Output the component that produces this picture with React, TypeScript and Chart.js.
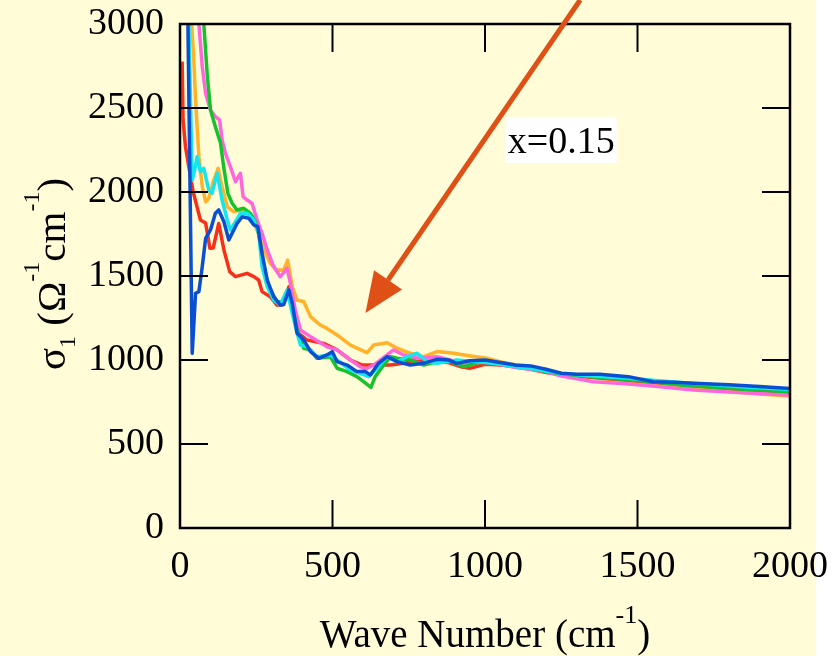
import React, { useEffect, useRef } from "react";
import { Chart, registerables } from "chart.js";

Chart.register(...registerables);

// ---- Data ----
const X_TICKS = [0, 500, 1000, 1500, 2000];
const Y_TICKS = [0, 500, 1000, 1500, 2000, 2500, 3000];

const blueX = [20, 26, 40, 51, 62, 73, 84, 100, 116, 127, 144, 160, 171, 187, 204, 226, 242, 255, 269, 286, 307, 329, 340, 357, 368, 384, 406, 428, 455, 482, 499, 515, 548, 580, 608, 624, 651, 679, 712, 755, 799, 843, 880, 908, 950, 1000, 1050, 1100, 1150, 1200, 1250, 1300, 1377, 1470, 1552, 1620, 1683, 1800, 1900, 2000];
const blueY = [3600, 3000, 1040, 1397, 1407, 1556, 1724, 1774, 1873, 1893, 1823, 1714, 1754, 1813, 1853, 1843, 1804, 1794, 1635, 1476, 1377, 1327, 1330, 1417, 1337, 1159, 1119, 1050, 1010, 1030, 1050, 990, 970, 931, 931, 911, 980, 1020, 990, 970, 980, 1005, 1000, 980, 995, 1000, 985, 970, 965, 945, 921, 915, 915, 901, 871, 868, 861, 852, 842, 831];

const cyanX = [22, 29, 36, 40, 48, 56, 67, 78, 94, 105, 122, 138, 155, 165, 182, 198, 220, 242, 258, 269, 286, 307, 329, 351, 368, 384, 395, 417, 449, 493, 515, 559, 591, 619, 646, 679, 712, 744, 777, 810, 843, 908, 974, 1050, 1100, 1150, 1200, 1250, 1350, 1450, 1550, 1650, 1750, 1850, 2000];
const cyanY = [3600, 3000, 2400, 2071, 2130, 2210, 2121, 2141, 2012, 1992, 2111, 1952, 1833, 1774, 1823, 1873, 1873, 1833, 1754, 1556, 1436, 1357, 1327, 1417, 1278, 1159, 1089, 1079, 1020, 1030, 1000, 940, 921, 901, 951, 1020, 990, 1020, 1040, 990, 980, 1000, 990, 975, 960, 950, 935, 920, 905, 895, 880, 865, 852, 840, 825];

const greenX = [65, 78, 89, 100, 116, 133, 143, 150, 157, 171, 187, 209, 231, 247, 258, 275, 291, 318, 335, 353, 368, 384, 406, 428, 449, 493, 515, 548, 580, 602, 626, 640, 668, 690, 712, 755, 799, 843, 886, 930, 974, 1017, 1100, 1150, 1200, 1250, 1350, 1450, 1550, 1650, 1750, 1850, 2000];
const greenY = [3500, 3000, 2706, 2488, 2389, 2290, 2151, 2071, 1992, 1933, 1893, 1903, 1873, 1823, 1754, 1556, 1436, 1347, 1347, 1407, 1318, 1179, 1069, 1060, 1010, 1020, 951, 931, 901, 871, 837, 901, 970, 1020, 1010, 1000, 970, 990, 990, 960, 984, 990, 965, 950, 930, 918, 900, 885, 870, 850, 838, 826, 811];

const pinkX = [50, 62, 73, 84, 100, 116, 130, 138, 149, 165, 182, 198, 207, 220, 236, 253, 269, 286, 307, 329, 351, 362, 378, 395, 428, 482, 515, 559, 591, 608, 635, 679, 700, 733, 777, 843, 886, 930, 995, 1050, 1100, 1150, 1200, 1250, 1356, 1450, 1550, 1683, 1800, 1900, 2000];
const pinkY = [3500, 3000, 2746, 2587, 2488, 2448, 2429, 2310, 2230, 2151, 2062, 2111, 1972, 1952, 1933, 1833, 1754, 1655, 1556, 1496, 1545, 1456, 1298, 1179, 1139, 1079, 1060, 1000, 960, 945, 970, 1030, 1060, 1030, 1010, 1020, 1000, 970, 990, 975, 955, 945, 930, 905, 871, 860, 845, 821, 810, 800, 792];

const redX = [7, 10, 18, 29, 43, 67, 84, 98, 109, 127, 144, 163, 182, 220, 242, 258, 269, 296, 318, 335, 357, 373, 389, 417, 471, 515, 559, 597, 646, 690, 733, 780, 830, 880, 920, 950, 1000, 1050, 1100, 1150, 1200, 1300, 1400, 1500, 1600, 1700, 1800, 1900, 2000];
const redY = [2776, 2429, 2268, 2150, 2002, 1833, 1815, 1665, 1667, 1813, 1655, 1526, 1496, 1516, 1496, 1476, 1407, 1377, 1327, 1327, 1436, 1298, 1159, 1119, 1099, 1060, 1000, 970, 970, 970, 980, 1000, 990, 985, 960, 950, 975, 970, 960, 945, 925, 905, 890, 875, 860, 845, 830, 818, 805];

const orangeX = [30, 38, 45, 51, 62, 73, 84, 94, 111, 125, 138, 155, 176, 198, 231, 253, 275, 296, 318, 340, 353, 368, 384, 406, 428, 460, 482, 515, 559, 613, 635, 679, 712, 755, 799, 843, 897, 952, 1006, 1050, 1100, 1150, 1200, 1250, 1300, 1400, 1500, 1600, 1700, 1800, 1900, 2000];
const orangeY = [3500, 3000, 2800, 2548, 2210, 2032, 1942, 1962, 2071, 2141, 2032, 1912, 1883, 1893, 1853, 1774, 1655, 1575, 1536, 1536, 1595, 1436, 1357, 1347, 1258, 1208, 1188, 1149, 1089, 1044, 1089, 1103, 1070, 1040, 1020, 1050, 1040, 1024, 1010, 990, 970, 950, 940, 920, 905, 885, 870, 850, 830, 812, 798, 786];

// Annotation (data coordinates)
const ARROW_TAIL = { x: 1312, y: 3143 };
const ARROW_TIP = { x: 608, y: 1280 };
const LABEL_TEXT = "x=0.15";
const LABEL_POS = { x: 1250, y: 2310 };

const SERIES = [
  { name: "blue", xs: blueX, ys: blueY, color: "#0A4FD2" },
  { name: "cyan", xs: cyanX, ys: cyanY, color: "#12E6EE" },
  { name: "green", xs: greenX, ys: greenY, color: "#16C22C" },
  { name: "pink", xs: pinkX, ys: pinkY, color: "#FF66DC" },
  { name: "red", xs: redX, ys: redY, color: "#F7301C" },
  { name: "orange", xs: orangeX, ys: orangeY, color: "#FFB22A" },
];

const FONT = "'Liberation Serif', 'Times New Roman', serif";

type Part = { t: string; size: number; dy: number };

function drawRich(ctx: CanvasRenderingContext2D, parts: Part[], cx: number, cy: number, rot: number) {
  ctx.save();
  ctx.translate(cx, cy);
  ctx.rotate(rot);
  let total = 0;
  const widths = parts.map((p) => {
    ctx.font = `${p.size}px ${FONT}`;
    const w = ctx.measureText(p.t).width;
    total += w;
    return w;
  });
  let x = -total / 2;
  ctx.fillStyle = "#000";
  ctx.textBaseline = "alphabetic";
  ctx.textAlign = "left";
  parts.forEach((p, i) => {
    ctx.font = `${p.size}px ${FONT}`;
    ctx.fillText(p.t, x, p.dy);
    x += widths[i];
  });
  ctx.restore();
}

const overlayPlugin = {
  id: "overlay",
  afterDatasetsDraw(chart: any) {
    const { ctx, chartArea: a, scales } = chart;
    const xs = scales.x;
    const ys = scales.y;
    ctx.save();
    // frame
    ctx.strokeStyle = "#000";
    ctx.lineWidth = 2.5;
    ctx.strokeRect(a.left, a.top, a.right - a.left, a.bottom - a.top);
    // inward ticks on all sides
    ctx.lineWidth = 2;
    ctx.beginPath();
    const TL = 28;
    X_TICKS.forEach((v) => {
      const p = xs.getPixelForValue(v);
      ctx.moveTo(p, a.bottom);
      ctx.lineTo(p, a.bottom - TL);
      ctx.moveTo(p, a.top);
      ctx.lineTo(p, a.top + TL);
    });
    Y_TICKS.forEach((v) => {
      const p = ys.getPixelForValue(v);
      ctx.moveTo(a.left, p);
      ctx.lineTo(a.left + TL, p);
      ctx.moveTo(a.right, p);
      ctx.lineTo(a.right - TL, p);
    });
    ctx.stroke();

    // arrow
    const tx = xs.getPixelForValue(ARROW_TAIL.x);
    const ty = ys.getPixelForValue(ARROW_TAIL.y);
    const hx = xs.getPixelForValue(ARROW_TIP.x);
    const hy = ys.getPixelForValue(ARROW_TIP.y);
    const ang = Math.atan2(hy - ty, hx - tx);
    const headLen = 40;
    const headHalf = 17;
    const bx = hx - headLen * Math.cos(ang);
    const by = hy - headLen * Math.sin(ang);
    ctx.strokeStyle = "#DF5016";
    ctx.fillStyle = "#DF5016";
    ctx.lineWidth = 5;
    ctx.beginPath();
    ctx.moveTo(tx, ty);
    ctx.lineTo(bx, by);
    ctx.stroke();
    ctx.beginPath();
    ctx.moveTo(hx, hy);
    ctx.lineTo(bx + headHalf * Math.sin(ang), by - headHalf * Math.cos(ang));
    ctx.lineTo(bx - headHalf * Math.sin(ang), by + headHalf * Math.cos(ang));
    ctx.closePath();
    ctx.fill();

    // label box
    const lx = xs.getPixelForValue(LABEL_POS.x);
    const ly = ys.getPixelForValue(LABEL_POS.y);
    ctx.font = `38px ${FONT}`;
    const w = ctx.measureText(LABEL_TEXT).width;
    ctx.fillStyle = "#FFFFFF";
    ctx.fillRect(lx - w / 2 - 2, ly - 23, w + 4, 46);
    ctx.fillStyle = "#000";
    ctx.textAlign = "left";
    ctx.textBaseline = "alphabetic";
    ctx.fillText(LABEL_TEXT, lx - w / 2, ly + 13);
    ctx.restore();

    // axis titles
    const cxm = (a.left + a.right) / 2;
    drawRich(
      ctx,
      [
        { t: "Wave Number (cm", size: 39, dy: 0 },
        { t: "-1", size: 26, dy: -24 },
        { t: ")", size: 39, dy: 0 },
      ],
      cxm,
      647,
      0
    );
    const cym = (a.top + a.bottom) / 2;
    drawRich(
      ctx,
      [
        { t: "σ", size: 41, dy: 0 },
        { t: "1", size: 24, dy: 10 },
        { t: " (Ω", size: 41, dy: 0 },
        { t: "-1", size: 24, dy: -26 },
        { t: "cm", size: 41, dy: 0 },
        { t: "-1", size: 24, dy: -26 },
        { t: ")", size: 41, dy: 0 },
      ],
      65,
      cym - 2,
      -Math.PI / 2
    );
  },
};

export default function App() {
  const ref = useRef<HTMLCanvasElement | null>(null);

  useEffect(() => {
    if (!ref.current) return;
    const datasets = SERIES.map((s) => ({
      label: s.name,
      data: s.xs.map((x, i) => ({ x, y: s.ys[i] })),
      borderColor: s.color,
      backgroundColor: s.color,
      borderWidth: 3.5,
      borderJoinStyle: "round",
      pointRadius: 0,
      tension: 0,
      fill: false,
    }));
    const tickFont = { family: FONT, size: 38 };
    const chart = new Chart(ref.current, {
      type: "line",
      data: { datasets },
      options: {
        animation: false,
        responsive: false,
        maintainAspectRatio: false,
        devicePixelRatio: 1,
        layout: { padding: { left: 0, right: 50, top: 24, bottom: 0 } },
        plugins: {
          legend: { display: false },
          tooltip: { enabled: false },
          title: { display: false },
        },
        scales: {
          x: {
            type: "linear",
            min: 0,
            max: 2000,
            ticks: {
              stepSize: 500,
              color: "#000",
              font: tickFont,
              padding: 16,
              maxRotation: 0,
              autoSkip: false,
              callback: (v: any) => String(v),
            },
            grid: { display: false, drawTicks: false },
            border: { display: false },
            afterFit: (s: any) => {
              s.height = 128;
              s.paddingLeft = 0;
              s.paddingRight = 0;
              s.paddingTop = 0;
              s.paddingBottom = 0;
            },
          },
          y: {
            type: "linear",
            min: 0,
            max: 3000,
            ticks: {
              stepSize: 500,
              color: "#000",
              font: tickFont,
              padding: 16,
              autoSkip: false,
              callback: (v: any) => String(v),
            },
            grid: { display: false, drawTicks: false },
            border: { display: false },
            afterFit: (s: any) => {
              s.width = 180;
              s.paddingLeft = 0;
              s.paddingRight = 0;
              s.paddingTop = 0;
              s.paddingBottom = 0;
            },
          },
        },
      } as any,
      plugins: [overlayPlugin],
    });
    return () => chart.destroy();
  }, []);

  return (
    <div style={{ position: "absolute", left: 0, top: 0, width: 840, height: 656, background: "#FFFFFF" }}>
      <div style={{ position: "absolute", left: 0, top: 0, width: 816, height: 656, background: "#FFFCD7" }} />
      <canvas
        ref={ref}
        width={840}
        height={656}
        style={{ position: "absolute", left: 0, top: 0, width: 840, height: 656, display: "block" }}
      />
    </div>
  );
}
